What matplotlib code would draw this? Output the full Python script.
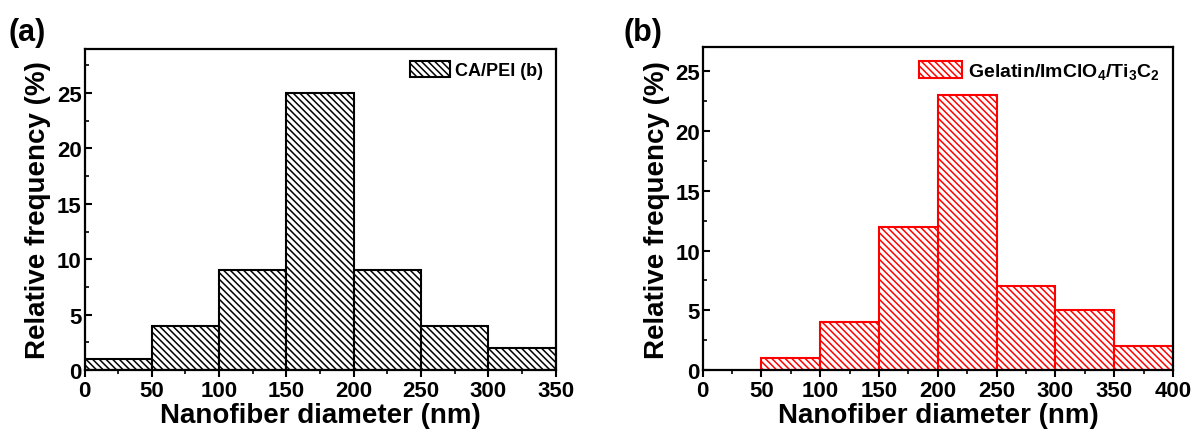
import matplotlib
matplotlib.use("Agg")
import matplotlib.pyplot as plt
from matplotlib.ticker import MultipleLocator

plt.rcParams['font.family'] = ['Liberation Sans', 'DejaVu Sans']
plt.rcParams['font.weight'] = 'bold'
plt.rcParams['mathtext.fontset'] = 'custom'
plt.rcParams['mathtext.rm'] = 'Liberation Sans:bold'
plt.rcParams['mathtext.bf'] = 'Liberation Sans:bold'
plt.rcParams['mathtext.default'] = 'bf'
plt.rcParams['hatch.linewidth'] = 1.1

# bin left edges (nm) and relative frequencies (%)
bins_a = [0, 50, 100, 150, 200, 250, 300]
freq_a = [1, 4, 9, 25, 9, 4, 2]
label_a = 'CA/PEI (b)'

bins_b = [50, 100, 150, 200, 250, 300, 350]
freq_b = [1, 4, 12, 23, 7, 5, 2]
label_b = r'Gelatin/ImClO$_4$/Ti$_3$C$_2$'

fig = plt.figure(figsize=(11.94, 4.31), dpi=100)
ax1 = fig.add_axes([0.0708, 0.139, 0.3946, 0.746])
ax2 = fig.add_axes([0.5885, 0.139, 0.394, 0.749])


def panel(ax, bins, freq, label, col, xmax, ymax, lfs):
    plt.rcParams['hatch.color'] = col
    ax.bar(bins, freq, width=50, align='edge', facecolor='white',
           edgecolor=col, hatch='\\\\\\\\\\', linewidth=1.5, label=label)
    ax.set_xlim(0, xmax)
    ax.set_ylim(0, ymax)
    ax.xaxis.set_major_locator(MultipleLocator(50))
    ax.xaxis.set_minor_locator(MultipleLocator(25))
    ax.yaxis.set_major_locator(MultipleLocator(5))
    ax.yaxis.set_minor_locator(MultipleLocator(2.5))
    ax.tick_params(axis='x', which='both', direction='out')
    ax.tick_params(axis='y', which='both', direction='in')
    ax.tick_params(which='major', length=5, width=1.5, labelsize=16, pad=2)
    ax.tick_params(which='minor', length=3, width=1.2)
    for s in ax.spines.values():
        s.set_linewidth(1.6)
    ax.set_xlabel('Nanofiber diameter (nm)', fontsize=20, fontweight='bold', labelpad=1)
    ax.set_ylabel('Relative frequency (%)', fontsize=20, fontweight='bold', labelpad=4)
    ax.legend(loc='upper right', frameon=False, fontsize=lfs, handlelength=2.2,
              handleheight=1.0, handletextpad=0.3, borderaxespad=0.3)


panel(ax1, bins_a, freq_a, label_a, 'black', 350, 29, 13)
panel(ax2, bins_b, freq_b, label_b, 'red', 400, 27, 14)

fig.text(0.007, 0.905, '(a)', fontsize=22, fontweight='bold')
fig.text(0.522, 0.905, '(b)', fontsize=22, fontweight='bold')

fig.savefig('out.png', dpi=100)
